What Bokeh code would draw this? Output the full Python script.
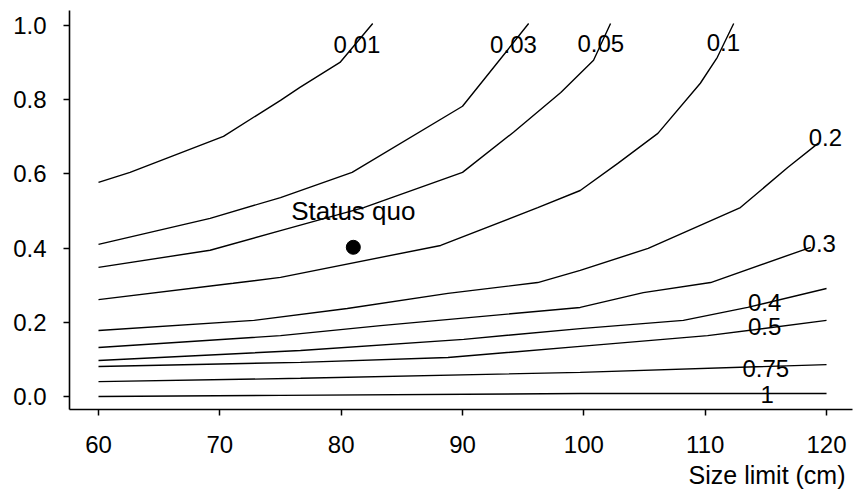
from bokeh.plotting import figure
from bokeh.models import Range1d, FixedTicker, Title, ColumnDataSource
from bokeh.core.properties import value
from bokeh.embed import file_html
from bokeh.resources import INLINE

# ---- data ----
c001_x = [60, 62.6, 70.3, 75.0, 76.6, 79.9, 82.6]
c001_y = [0.577, 0.604, 0.701, 0.798, 0.833, 0.900, 1.005]

c003_x = [60, 69.2, 75.0, 80.9, 90.0, 93.7, 95.45]
c003_y = [0.410, 0.480, 0.536, 0.604, 0.782, 0.933, 1.005]

c005_x = [60, 69.2, 75.0, 81.85, 90.0, 94.2, 98.1, 100.8, 102.2]
c005_y = [0.348, 0.394, 0.447, 0.509, 0.604, 0.712, 0.819, 0.906, 1.005]

c01_x = [60, 71.1, 75.0, 88.2, 96.2, 99.7, 102.8, 106.1, 109.6, 111.0, 112.35]
c01_y = [0.261, 0.305, 0.321, 0.407, 0.509, 0.555, 0.628, 0.709, 0.844, 0.914, 1.005]

c02_x = [60, 72.8, 80.5, 88.8, 96.2, 99.7, 105.3, 112.9, 116.8, 119.3]
c02_y = [0.178, 0.205, 0.237, 0.278, 0.307, 0.340, 0.399, 0.509, 0.617, 0.682]

c03_x = [60, 75.0, 83.25, 99.7, 104.9, 110.45, 118.7]
c03_y = [0.132, 0.164, 0.191, 0.240, 0.280, 0.307, 0.402]

c04_x = [60, 76.65, 90.1, 99.7, 108.2, 113.5, 120]
c04_y = [0.097, 0.124, 0.154, 0.183, 0.205, 0.240, 0.291]

c05_x = [60, 76.65, 88.8, 99.7, 110.2, 120]
c05_y = [0.081, 0.092, 0.105, 0.135, 0.164, 0.205]

c075_x = [60, 76.65, 99.7, 120]
c075_y = [0.040, 0.049, 0.065, 0.086]

c1_x = [60, 75.0, 99.7, 120]
c1_y = [0.000, 0.003, 0.008, 0.008]

contour_text = ["0.01", "0.03", "0.05", "0.1", "0.2", "0.3", "0.4", "0.5", "0.75", "1"]
label_x = [81.3, 94.2, 101.4, 111.5, 119.9, 119.4, 114.9, 114.9, 115.0, 115.1]
label_y = [0.949, 0.949, 0.951, 0.954, 0.698, 0.412, 0.253, 0.189, 0.075, 0.005]

status_x = [81.0]
status_y = [0.402]
status_text = ["Status quo"]
status_text_y = [0.501]

x_ticks = [60, 70, 80, 90, 100, 110, 120]
y_ticks = [0.0, 0.2, 0.4, 0.6, 0.8, 1.0]
y_tick_labels = ["0.0", "0.2", "0.4", "0.6", "0.8", "1.0"]
x_label = "Size limit (cm)"

FONT = "Liberation Sans"
FS = "24px"

p = figure(width=855, height=495,
           x_range=Range1d(57.61, 122.14), y_range=Range1d(-0.035, 1.040),
           output_backend="svg", toolbar_location=None,
           min_border_left=69, min_border_right=3, min_border_top=10, min_border_bottom=86)
p.outline_line_color = None
p.xgrid.visible = False
p.ygrid.visible = False
p.background_fill_color = "white"
p.border_fill_color = "white"

for xs, ys in [(c001_x, c001_y), (c003_x, c003_y), (c005_x, c005_y), (c01_x, c01_y),
               (c02_x, c02_y), (c03_x, c03_y), (c04_x, c04_y), (c05_x, c05_y),
               (c075_x, c075_y), (c1_x, c1_y)]:
    p.line(xs, ys, line_color="black", line_width=1.4)

lab_src = ColumnDataSource(dict(x=label_x, y=label_y, t=contour_text))
p.text(x="x", y="y", text="t", source=lab_src, text_font=value(FONT),
       text_font_size=FS, text_align="center", text_baseline="middle", text_color="black")

p.scatter(status_x, status_y, size=14, color="black")
p.text(x=status_x, y=status_text_y, text=status_text, text_font=value(FONT),
       text_font_size="26px", text_align="center", text_baseline="middle", text_color="black")

for ax in (p.xaxis[0], p.yaxis[0]):
    ax.axis_line_width = 1.6
    ax.axis_line_color = "black"
    ax.major_tick_line_width = 1.5
    ax.major_tick_line_color = "black"
    ax.major_tick_out = 6
    ax.major_tick_in = 0
    ax.minor_tick_line_color = None
    ax.major_label_text_font = FONT
    ax.major_label_text_font_size = FS
    ax.major_label_text_color = "black"

p.xaxis[0].ticker = FixedTicker(ticks=x_ticks)
p.yaxis[0].ticker = FixedTicker(ticks=y_ticks)
p.yaxis[0].major_label_overrides = {t: l for t, l in zip(y_ticks, y_tick_labels)}
p.xaxis[0].major_label_standoff = 20
p.yaxis[0].major_label_standoff = 17

p.add_layout(Title(text=x_label, align="right", text_font=FONT, text_font_size="25px",
                   text_font_style="normal", text_color="black", offset=7, standoff=7), "below")

open("out.html", "w").write(file_html(p, INLINE))
